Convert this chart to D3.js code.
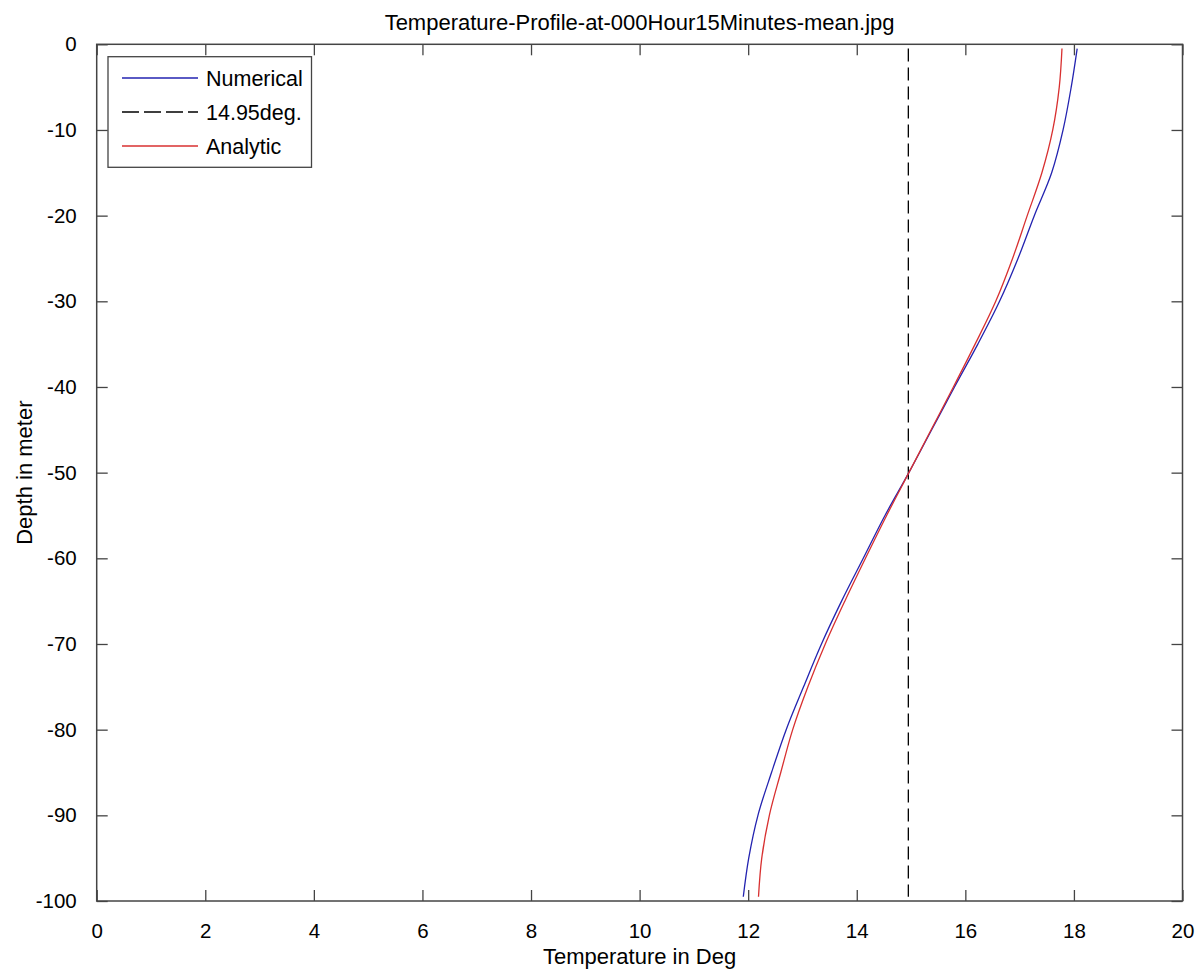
<!DOCTYPE html>
<html lang="en">
<head>
    <meta charset="UTF-8">
    <title>Temperature Profile</title>
    <script src="https://cdn.jsdelivr.net/npm/d3@7"></script>
    <style>
        body { margin: 0; background: #fff; }
        text { font-family: "Liberation Sans", Arial, sans-serif; fill: #000; }
    </style>
</head>
<body>
<script>
    // depth in meter (negative down) and temperatures
    var depth      = [-0.5, -5, -10, -15, -20, -25, -30, -35, -40, -45, -50, -55, -60, -65, -70, -75, -80, -85, -90, -95, -99.5];
    var numerical  = [18.06, 17.95, 17.80, 17.59, 17.27, 16.97, 16.63, 16.23, 15.80, 15.38, 14.96, 14.52, 14.12, 13.72, 13.35, 13.02, 12.70, 12.43, 12.18, 12.01, 11.91];
    var analytic   = [17.78, 17.73, 17.61, 17.41, 17.14, 16.87, 16.56, 16.18, 15.78, 15.37, 14.96, 14.55, 14.16, 13.78, 13.42, 13.10, 12.82, 12.60, 12.39, 12.25, 12.19];
    var meanTemp = 14.95;
    var dashDepth = [-0.5, -99.5];
    var xTicks = [0, 2, 4, 6, 8, 10, 12, 14, 16, 18, 20];
    var yTicks = [0, -10, -20, -30, -40, -50, -60, -70, -80, -90, -100];

    // plot box (avoid the name "top", it is window.top)
    var padL = 96.7, padR = 1182.5, padT = 44.3, padB = 901;

    var svg = d3.select("body").append("svg")
        .attr("width", 1195)
        .attr("height", 969);

    var x = d3.scaleLinear().domain([0, 20]).range([padL, padR]);
    var y = d3.scaleLinear().domain([-100, 0]).range([padB, padT]);

    // plain hyphen for negatives, like the original
    var fmt = function(d){ return String(d); };

    // axes with inward ticks on all four sides
    var axisCol = "#444";
    function styleAxis(g) {
        g.select(".domain").remove();
        g.selectAll(".tick line").attr("stroke", axisCol).attr("stroke-width", 1.3);
        g.selectAll(".tick text").style("font-size", "20.5px").attr("fill", "#000");
    }

    svg.append("g")
        .attr("transform", "translate(0," + padB + ")")
        .call(d3.axisBottom(x).tickValues(xTicks).tickFormat(fmt).tickSizeInner(-11).tickSizeOuter(0).tickPadding(22))
        .call(styleAxis);
    svg.append("g")
        .attr("transform", "translate(0," + padT + ")")
        .call(d3.axisTop(x).tickValues(xTicks).tickSizeInner(-11).tickSizeOuter(0).tickFormat(""))
        .call(styleAxis);
    svg.append("g")
        .attr("transform", "translate(" + padL + ",0)")
        .call(d3.axisLeft(y).tickValues(yTicks).tickFormat(fmt).tickSizeInner(-11).tickSizeOuter(0).tickPadding(20))
        .call(styleAxis);
    svg.append("g")
        .attr("transform", "translate(" + padR + ",0)")
        .call(d3.axisRight(y).tickValues(yTicks).tickSizeInner(-11).tickSizeOuter(0).tickFormat(""))
        .call(styleAxis);

    svg.append("rect")
        .attr("x", padL).attr("y", padT)
        .attr("width", padR - padL).attr("height", padB - padT)
        .attr("fill", "none").attr("stroke", axisCol).attr("stroke-width", 1.5);

    // lines
    var line = d3.line()
        .x(function(d){ return x(d[0]); })
        .y(function(d){ return y(d[1]); })
        .curve(d3.curveCatmullRom);

    svg.append("path")
        .datum(dashDepth.map(function(d){ return [meanTemp, d]; }))
        .attr("d", line)
        .attr("fill", "none").attr("stroke", "#000")
        .attr("stroke-width", 1.3).attr("stroke-dasharray", "13,6");

    svg.append("path")
        .datum(depth.map(function(d, i){ return [numerical[i], d]; }))
        .attr("d", line)
        .attr("fill", "none").attr("stroke", "#2323b0").attr("stroke-width", 1.3);

    svg.append("path")
        .datum(depth.map(function(d, i){ return [analytic[i], d]; }))
        .attr("d", line)
        .attr("fill", "none").attr("stroke", "#d83030").attr("stroke-width", 1.3);

    // titles
    svg.append("text")
        .attr("x", (padL + padR) / 2).attr("y", 30)
        .attr("text-anchor", "middle").style("font-size", "22px")
        .text("Temperature-Profile-at-000Hour15Minutes-mean.jpg");

    svg.append("text")
        .attr("x", (padL + padR) / 2).attr("y", 964)
        .attr("text-anchor", "middle").style("font-size", "22px")
        .text("Temperature in Deg");

    svg.append("text")
        .attr("transform", "translate(32," + (padT + padB) / 2 + ") rotate(-90)")
        .attr("text-anchor", "middle").style("font-size", "22px")
        .text("Depth in meter");

    // legend
    var legend = [
        {name: "Numerical", col: "#2323b0", dash: null},
        {name: "14.95deg.", col: "#000", dash: "17,5"},
        {name: "Analytic", col: "#d83030", dash: null}
    ];
    var lg = svg.append("g");
    lg.append("rect")
        .attr("x", 108).attr("y", 56.7).attr("width", 203.5).attr("height", 110.6)
        .attr("fill", "#fff").attr("stroke", axisCol).attr("stroke-width", 1.3);
    var rows = lg.selectAll("g.row").data(legend).enter().append("g")
        .attr("transform", function(d, i){ return "translate(0," + (78 + i * 34) + ")"; });
    rows.append("line")
        .attr("x1", 122).attr("x2", 198).attr("y1", 0).attr("y2", 0)
        .attr("stroke", function(d){ return d.col; })
        .attr("stroke-width", 1.3)
        .attr("stroke-dasharray", function(d){ return d.dash; });
    rows.append("text")
        .attr("x", 206).attr("y", 8)
        .style("font-size", "21.5px")
        .text(function(d){ return d.name; });
</script>
</body>
</html>
